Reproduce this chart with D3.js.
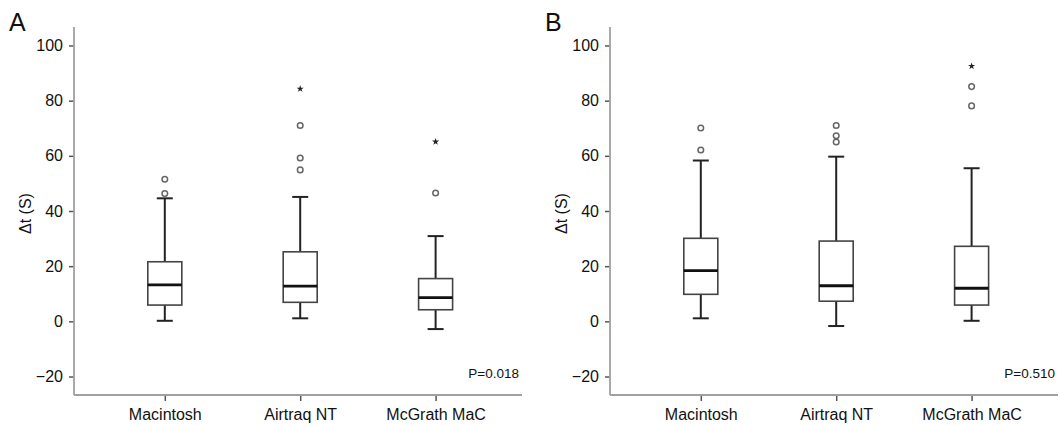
<!DOCTYPE html>
<html><head><meta charset="utf-8">
<script src="https://cdn.jsdelivr.net/npm/d3@7"></script>
<style>html,body{margin:0;padding:0;background:#fff;}svg{display:block;font-family:"Liberation Sans",Arial,Helvetica,sans-serif;}</style>
</head><body>
<svg id="chart" width="1061" height="425"></svg>
<script>
const categories = ["Macintosh", "Airtraq NT", "McGrath MaC"];
const yTicks = [-20, 0, 20, 40, 60, 80, 100];
const panelLabels = ["A", "B"];
const pValues = ["P=0.018", "P=0.510"];

// Panel A
const aLow    = [0.2, 1.1, -2.8];
const aQ1     = [5.9, 6.9, 4.2];
const aMedian = [13.2, 12.8, 8.6];
const aQ3     = [21.6, 25.2, 15.5];
const aHigh   = [44.6, 45.1, 30.9];
const aOutliers = [[51.5, 46.3], [71.0, 59.2, 54.9], [46.5]];
const aExtremes = [[], [84.3], [65.1]];

// Panel B
const bLow    = [1.1, -1.7, 0.2];
const bQ1     = [9.8, 7.3, 5.9];
const bMedian = [18.4, 12.9, 12.0];
const bQ3     = [30.1, 29.1, 27.2];
const bHigh   = [58.3, 59.7, 55.5];
const bOutliers = [[70.1, 62.1], [71.0, 67.3, 65.0], [78.1, 85.1]];
const bExtremes = [[], [], [92.5]];

const panels = [
  {low: aLow, q1: aQ1, med: aMedian, q3: aQ3, high: aHigh, out: aOutliers, ext: aExtremes},
  {low: bLow, q1: bQ1, med: bMedian, q3: bQ3, high: bHigh, out: bOutliers, ext: bExtremes}
];

const svg = d3.select("#chart");
const panelOffset = 536;
const yAxisX = 74, xAxisEnd = 522;
const y = d3.scaleLinear().domain([-26.7, 106.7]).range([395, 27]);
const x = d3.scalePoint().domain(categories).range([164.8, 435.6]);
const boxW = 34, capW = 16;
const FONT = '"Liberation Sans",Arial,Helvetica,sans-serif';

panels.forEach((p, pi) => {
  const g = svg.append("g").attr("transform", `translate(${pi * panelOffset},0)`);

  // panel letter
  g.append("text").attr("x", 9).attr("y", 31).attr("font-size", 25).attr("fill", "#111")
    .text(panelLabels[pi]);

  // y axis
  const yAxis = d3.axisLeft(y).tickValues(yTicks).tickSize(5).tickPadding(6)
    .tickFormat(d => d < 0 ? "\u2212" + Math.abs(d) : d);
  const ya = g.append("g").attr("transform", `translate(${yAxisX},0)`).call(yAxis);
  ya.select(".domain").remove();
  ya.selectAll(".tick line").attr("stroke", "#555").attr("stroke-width", 1.5);
  ya.selectAll(".tick text").attr("font-size", 16).attr("fill", "#111").attr("font-family", FONT);

  // x axis
  const xAxis = d3.axisBottom(x).tickSize(6).tickPadding(10);
  const xa = g.append("g").attr("transform", `translate(0,${y(-26.7)})`).call(xAxis);
  xa.select(".domain").remove();
  xa.selectAll(".tick line").attr("stroke", "#555").attr("stroke-width", 1.5);
  xa.selectAll(".tick text").attr("font-size", 16).attr("fill", "#111").attr("font-family", FONT)
    .attr("dy", "0.71em").attr("y", 14);

  // axis lines
  g.append("line").attr("x1", yAxisX).attr("x2", yAxisX)
    .attr("y1", y(106.7)).attr("y2", y(-26.7))
    .attr("stroke", "#a0a0a0").attr("stroke-width", 1.8);
  g.append("line").attr("x1", yAxisX).attr("x2", xAxisEnd)
    .attr("y1", y(-26.7)).attr("y2", y(-26.7))
    .attr("stroke", "#a0a0a0").attr("stroke-width", 1.8);

  categories.forEach((c, i) => {
    const cx = x(c);
    g.append("line").attr("x1", cx).attr("x2", cx).attr("y1", y(p.q3[i])).attr("y2", y(p.high[i]))
      .attr("stroke", "#222").attr("stroke-width", 2);
    g.append("line").attr("x1", cx).attr("x2", cx).attr("y1", y(p.q1[i])).attr("y2", y(p.low[i]))
      .attr("stroke", "#222").attr("stroke-width", 2);
    [p.high[i], p.low[i]].forEach(v => {
      g.append("line").attr("x1", cx - capW / 2).attr("x2", cx + capW / 2)
        .attr("y1", y(v)).attr("y2", y(v)).attr("stroke", "#222").attr("stroke-width", 2);
    });
    g.append("rect").attr("x", cx - boxW / 2).attr("width", boxW)
      .attr("y", y(p.q3[i])).attr("height", y(p.q1[i]) - y(p.q3[i]))
      .attr("fill", "#fff").attr("stroke", "#444").attr("stroke-width", 1.6);
    g.append("line").attr("x1", cx - boxW / 2).attr("x2", cx + boxW / 2)
      .attr("y1", y(p.med[i])).attr("y2", y(p.med[i]))
      .attr("stroke", "#111").attr("stroke-width", 2.8);
    p.out[i].forEach(v => {
      g.append("circle").attr("cx", cx).attr("cy", y(v)).attr("r", 2.8)
        .attr("fill", "#fff").attr("stroke", "#666").attr("stroke-width", 1.5);
    });
    p.ext[i].forEach(v => {
      g.append("path").attr("d", d3.symbol().type(d3.symbolStar).size(16)())
        .attr("transform", `translate(${cx},${y(v)})`).attr("fill", "#222");
    });
  });

  // y label
  g.append("text").attr("transform", `translate(31,${213.5}) rotate(-90)`)
    .attr("text-anchor", "middle").attr("font-size", 16).attr("fill", "#111")
    .text("\u0394t (S)");

  // p value
  g.append("text").attr("x", 519).attr("y", 377.5).attr("text-anchor", "end")
    .attr("font-size", 13.5).attr("fill", "#111").text(pValues[pi]);
});
</script>
</body></html>
